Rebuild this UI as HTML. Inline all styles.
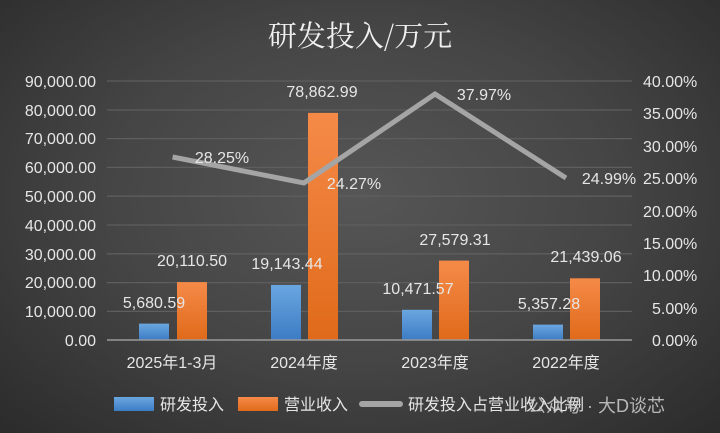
<!DOCTYPE html>
<html><head><meta charset="utf-8"><style>
body{margin:0;width:720px;height:433px;overflow:hidden;background:radial-gradient(ellipse at 50% 45%,#565656 0%,#454545 50%,#2b2b2b 100%);font-family:"Liberation Sans","Noto Sans CJK SC",sans-serif;}
</style></head><body>
<svg width="720" height="433" xmlns="http://www.w3.org/2000/svg" style="position:absolute;left:0;top:0">
<defs>
<linearGradient id="b" x1="0" y1="0" x2="0" y2="1"><stop offset="0" stop-color="#6aa6e0"/><stop offset="1" stop-color="#3c7cc4"/></linearGradient>
<linearGradient id="o" x1="0" y1="0" x2="0" y2="1"><stop offset="0" stop-color="#f58a48"/><stop offset="1" stop-color="#e06a1a"/></linearGradient>
</defs>
<text x="360" y="46" fill="#f0f0f0" font-size="29" text-anchor="middle" font-family="Noto Serif CJK SC,serif">研发投入/万元</text>
<g stroke="#5e5e5e" stroke-width="1.3">
<line x1="107" x2="632" y1="81" y2="81"/><line x1="107" x2="632" y1="110" y2="110"/><line x1="107" x2="632" y1="138.6" y2="138.6"/><line x1="107" x2="632" y1="167.4" y2="167.4"/><line x1="107" x2="632" y1="196.2" y2="196.2"/><line x1="107" x2="632" y1="225" y2="225"/><line x1="107" x2="632" y1="253.8" y2="253.8"/><line x1="107" x2="632" y1="282.6" y2="282.6"/><line x1="107" x2="632" y1="311.4" y2="311.4"/>
</g>
<g fill="#e6e6e6" font-size="16" text-anchor="end">
<text x="96" y="87">90,000.00</text><text x="96" y="116">80,000.00</text><text x="96" y="144">70,000.00</text><text x="96" y="173">60,000.00</text><text x="96" y="202">50,000.00</text><text x="96" y="231">40,000.00</text><text x="96" y="260">30,000.00</text><text x="96" y="288">20,000.00</text><text x="96" y="317">10,000.00</text><text x="96" y="346">0.00</text>
</g>
<g fill="#e6e6e6" font-size="16">
<text x="643" y="87">40.00%</text><text x="643" y="119">35.00%</text><text x="643" y="152">30.00%</text><text x="643" y="184">25.00%</text><text x="643" y="217">20.00%</text><text x="643" y="249">15.00%</text><text x="643" y="281">10.00%</text><text x="652" y="314">5.00%</text><text x="652" y="346">0.00%</text>
</g>
<rect x="139" y="323.6" width="30" height="16.4" fill="url(#b)"/>
<rect x="177" y="282.1" width="30" height="57.9" fill="url(#o)"/>
<rect x="271" y="284.9" width="30" height="55.1" fill="url(#b)"/>
<rect x="308" y="112.9" width="30" height="227.1" fill="url(#o)"/>
<rect x="402" y="309.8" width="30" height="30.2" fill="url(#b)"/>
<rect x="439" y="260.6" width="30" height="79.4" fill="url(#o)"/>
<rect x="533" y="324.6" width="30" height="15.4" fill="url(#b)"/>
<rect x="570" y="278.3" width="30" height="61.7" fill="url(#o)"/>
<line x1="107" x2="632" y1="340" y2="340" stroke="#9a9a9a" stroke-width="1.5"/>
<polyline points="172.6,157 303.9,183 435,94 566,178" fill="none" stroke="#a5a5a5" stroke-width="5" stroke-linejoin="miter"/>
<g fill="#e6e6e6" font-size="16" text-anchor="middle">
<text x="154" y="308">5,680.59</text><text x="192" y="266">20,110.50</text>
<text x="287" y="269">19,143.44</text><text x="322" y="97">78,862.99</text>
<text x="418" y="294">10,471.57</text><text x="455" y="245">27,579.31</text>
<text x="549" y="309">5,357.28</text><text x="586" y="262">21,439.06</text>
<text x="222" y="163">28.25%</text><text x="354" y="189">24.27%</text><text x="484" y="100">37.97%</text><text x="609" y="184">24.99%</text>
</g>
<g fill="#e6e6e6" font-size="16" text-anchor="middle">
<text x="172" y="368">2025年1-3月</text><text x="304" y="368">2024年度</text><text x="435" y="368">2023年度</text><text x="566" y="368">2022年度</text>
</g>
<rect x="114" y="397" width="40" height="14" fill="url(#b)"/>
<text x="160" y="410" fill="#e6e6e6" font-size="16">研发投入</text>
<rect x="238" y="397" width="40" height="14" fill="url(#o)"/>
<text x="284" y="410" fill="#e6e6e6" font-size="16">营业收入</text>
<line x1="362" x2="400" y1="404" y2="404" stroke="#a5a5a5" stroke-width="6" stroke-linecap="round"/>
<text x="408" y="410" fill="#e6e6e6" font-size="16">研发投入占营业收入比例</text>
<text x="528" y="412" fill="#cfcfcf" font-size="18" opacity="0.85">公众号 · 大D谈芯</text>
</svg>
</body></html>
